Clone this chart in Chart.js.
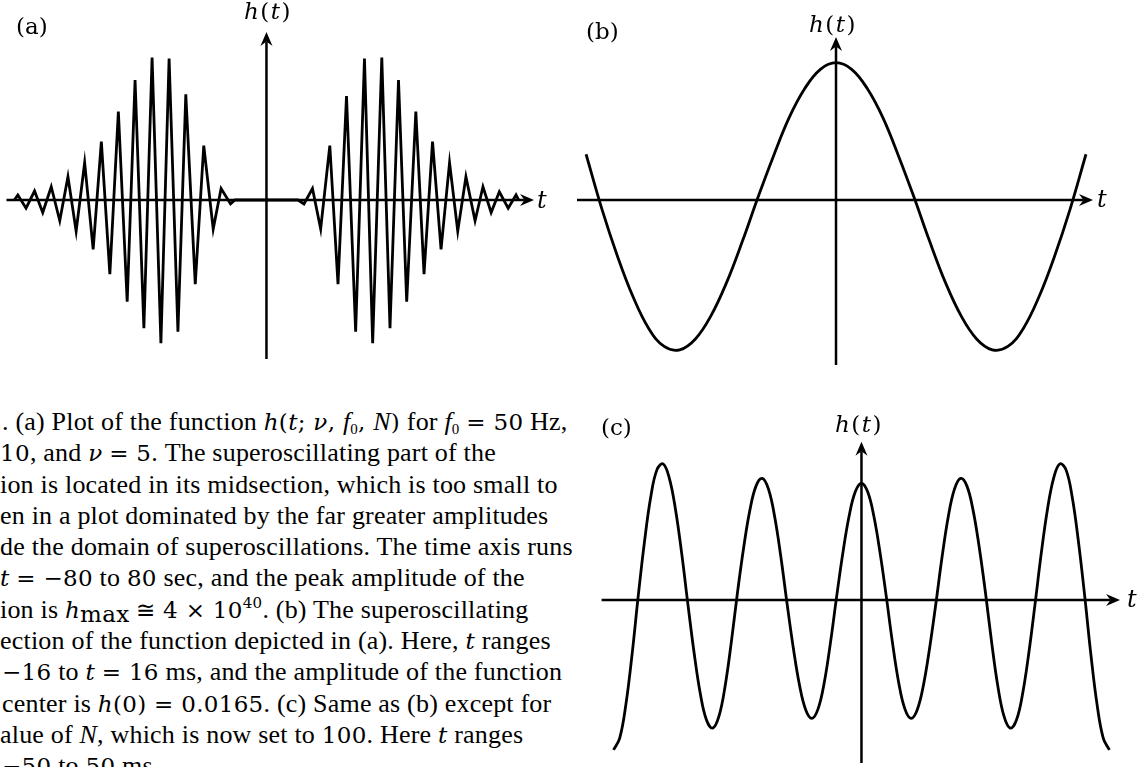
<!DOCTYPE html>
<html><head><meta charset="utf-8">
<script src="https://cdn.jsdelivr.net/npm/chart.js@4.4.1/dist/chart.umd.min.js"></script>
<style>
html,body{margin:0;padding:0;background:#fff;}
body{width:1141px;height:767px;overflow:hidden;position:relative;color:#000;}
canvas{position:absolute;}
.lbl{position:absolute;font-family:"DejaVu Serif",serif;font-size:23px;line-height:23px;white-space:nowrap;}
.ax{position:absolute;font-family:"DejaVu Serif",serif;font-style:italic;font-size:24px;line-height:24px;}
.ht{position:absolute;font-family:"DejaVu Serif",serif;font-size:23px;line-height:23px;letter-spacing:1.5px;transform:translateX(-50%);white-space:nowrap;}
#cap{position:absolute;left:0;top:406px;font-family:"Liberation Serif","Times New Roman",serif;font-size:26px;line-height:31.3px;letter-spacing:0.2px;white-space:nowrap;}
#cap div{height:31.3px;}
.m{font-family:"DejaVu Serif",serif;font-style:italic;font-size:23px;letter-spacing:0.3px;}
.n{font-family:"DejaVu Serif",serif;font-size:23px;letter-spacing:0.3px;}
sub{font-size:15px;vertical-align:-4px;line-height:0;}
sup{font-size:15px;vertical-align:10px;line-height:0;}
</style></head>
<body>
<canvas id="ca" width="550" height="350" style="left:0;top:20px"></canvas>
<canvas id="cb" width="545" height="352" style="left:565px;top:25px"></canvas>
<canvas id="cc" width="545" height="337" style="left:590px;top:430px"></canvas>

<div class="lbl" style="left:16px;top:15px">(a)</div>
<div class="lbl" style="left:586px;top:20px">(b)</div>
<div class="lbl" style="left:601px;top:416px">(c)</div>
<div class="ht" style="left:268px;top:0px"><i>h</i>(<i>t</i>)</div>
<div class="ht" style="left:833px;top:13px"><i>h</i>(<i>t</i>)</div>
<div class="ht" style="left:859px;top:413px"><i>h</i>(<i>t</i>)</div>
<div class="ax" style="left:537px;top:188px">t</div>
<div class="ax" style="left:1097px;top:187px">t</div>
<div class="ax" style="left:1127px;top:587px">t</div>

<div id="cap">
<div style="padding-left:2px">. (a) Plot of the function <span class="m">h</span><span class="n">(</span><span class="m">t</span><span class="n">; </span><span class="m">ν</span><span class="n">, </span><i>f</i><sub>0</sub><span class="n">, </span><i>N</i><span class="n">)</span> for <i>f</i><sub>0</sub> <span class="n">= 50</span> Hz,</div>
<div><span class="n">10</span>, and <span class="m">ν</span> <span class="n">= 5</span>. The superoscillating part of the</div>
<div>ion is located in its midsection, which is too small to</div>
<div>en in a plot dominated by the far greater amplitudes</div>
<div>de the domain of superoscillations. The time axis runs</div>
<div><span class="m">t</span> <span class="n">= −80</span> to <span class="n">80</span> sec, and the peak amplitude of the</div>
<div>ion is <span class="m">h</span><sub class="n">max</sub> <span class="n">≅ 4 × 10<sup>40</sup></span>. (b) The superoscillating</div>
<div>ection of the function depicted in (a). Here, <span class="m">t</span> ranges</div>
<div style="padding-left:2px"><span class="n">−16</span> to <span class="m">t</span> <span class="n">= 16</span> ms, and the amplitude of the function</div>
<div style="padding-left:2px">center is <span class="m">h</span><span class="n">(0) = 0.0165</span>. (c) Same as (b) except for</div>
<div>alue of <i>N</i>, which is now set to <span class="n">100</span>. Here <span class="m">t</span> ranges</div>
<div style="padding-left:2px"><span class="n">−50</span> to <span class="n">50</span> ms.</div>
</div>

<script>
// (a) t in seconds, h in units of 1e40
const tA = [-80, -78.9, -76.3, -73.6, -71.0, -68.3, -65.6, -63.0, -60.4, -57.7, -55.0, -52.4, -49.7, -47.0, -44.2, -41.7, -38.9, -36.3, -33.5, -30.9, -28.1, -25.6, -22.6, -19.9, -16.9, -14.4, -11.4, -10,
            10, 11.9, 14.6, 17.2, 20.1, 22.7, 25.4, 28.3, 31.1, 33.7, 36.6, 39.2, 41.9, 44.5, 47.4, 50.0, 52.7, 55.4, 58.1, 60.7, 63.3, 66.2, 68.7, 71.3, 73.9, 76.7, 79.2, 80];
const hA = [0, 0.14, -0.23, 0.25, -0.35, 0.37, -0.58, 0.65, -0.87, 1.04, -1.38, 1.63, -2.07, 2.47, -2.84, 3.35, -3.58, 3.98, -4.0, 3.95, -3.68, 2.95, -2.35, 1.52, -0.81, 0.32, -0.11, 0,
            0, -0.11, 0.32, -0.81, 1.52, -2.35, 2.90, -3.68, 3.95, -4.0, 3.98, -3.58, 3.35, -2.84, 2.47, -2.07, 1.63, -1.38, 1.04, -0.87, 0.65, -0.58, 0.37, -0.35, 0.23, -0.23, 0.14, 0];

// (b) t in ms
const tB = [-16, -15, -14, -13, -12, -11, -10, -9, -8, -7, -6, -5, -4, -3, -2, -1, 0, 1, 2, 3, 4, 5, 6, 7, 8, 9, 10, 11, 12, 13, 14, 15, 16];
const hB = [0.0055, -0.0010, -0.0067, -0.0116, -0.0154, -0.0176, -0.0180, -0.0167, -0.0139, -0.0099, -0.0050, 0.0003, 0.0053, 0.0099, 0.0134, 0.0157, 0.0165,
            0.0157, 0.0134, 0.0099, 0.0053, 0.0003, -0.0050, -0.0099, -0.0139, -0.0167, -0.0180, -0.0176, -0.0154, -0.0116, -0.0067, -0.0010, 0.0055];

// (c) t in ms, h relative to h(0)
const tC = [-50, -48.75, -47.5, -46.25, -45, -43.75, -42.5, -41.25, -40, -38.75, -37.5, -36.25, -35, -33.75, -32.5, -31.25, -30, -28.75, -27.5, -26.25,
            -25, -23.75, -22.5, -21.25, -20, -18.75, -17.5, -16.25, -15, -13.75, -12.5, -11.25, -10, -8.75, -7.5, -6.25, -5, -3.75, -2.5, -1.25, 0,
            1.25, 2.5, 3.75, 5, 6.25, 7.5, 8.75, 10, 11.25, 12.5, 13.75, 15, 16.25, 17.5, 18.75, 20, 21.25, 22.5, 23.75, 25,
            26.25, 27.5, 28.75, 30, 31.25, 32.5, 33.75, 35, 36.25, 37.5, 38.75, 40, 41.25, 42.5, 43.75, 45, 46.25, 47.5, 48.75, 50];
const hC = [-1.285, -1.183, -0.894, -0.463, 0.039, 0.500, 0.880, 1.115, 1.166, 1.045, 0.776, 0.399, -0.035, -0.452, -0.801, -1.028, -1.098, -0.998, -0.739, -0.363,
            0.064, 0.450, 0.770, 0.978, 1.042, 0.950, 0.714, 0.368, -0.032, -0.409, -0.728, -0.940, -1.014, -0.933, -0.706, -0.365, 0.031, 0.404, 0.718, 0.927, 1.000,
            0.927, 0.718, 0.404, 0.031, -0.365, -0.706, -0.933, -1.014, -0.940, -0.728, -0.409, -0.032, 0.368, 0.714, 0.950, 1.042, 0.978, 0.770, 0.450, 0.064,
            -0.363, -0.739, -0.998, -1.098, -1.028, -0.801, -0.452, -0.035, 0.399, 0.776, 1.045, 1.166, 1.115, 0.880, 0.500, 0.039, -0.463, -0.894, -1.183, -1.285];

const axesArrows = {
  id: 'axesArrows',
  beforeDatasetsDraw(chart) {
    const {ctx, chartArea, scales} = chart;
    const {left, right, top, bottom} = chartArea;
    const x0 = scales.x.getPixelForValue(0);
    const y0 = scales.y.getPixelForValue(0);
    const L = 14, W = 6, N = 4.5;
    ctx.save();
    ctx.strokeStyle = '#000';
    ctx.fillStyle = '#000';
    ctx.lineWidth = 2.5;
    ctx.beginPath();
    ctx.moveTo(left, y0); ctx.lineTo(right - L + N, y0);
    ctx.moveTo(x0, bottom); ctx.lineTo(x0, top + L - N);
    ctx.stroke();
    ctx.beginPath();
    ctx.moveTo(right, y0); ctx.lineTo(right - L, y0 - W); ctx.lineTo(right - L + N, y0); ctx.lineTo(right - L, y0 + W); ctx.closePath();
    ctx.moveTo(x0, top); ctx.lineTo(x0 - W, top + L); ctx.lineTo(x0, top + L - N); ctx.lineTo(x0 + W, top + L); ctx.closePath();
    ctx.fill();
    ctx.restore();
  }
};

function makeChart(id, xs, ys, xr, yr, pad, smooth) {
  const pts = xs.map((t, i) => ({x: t, y: ys[i]}));
  return new Chart(document.getElementById(id), {
    type: 'scatter',
    data: {datasets: [{
      data: pts, showLine: true, borderColor: '#000', borderWidth: 2.8,
      pointRadius: 0, tension: smooth ? 0.4 : 0, fill: false
    }]},
    options: {
      responsive: false, animation: false, devicePixelRatio: 1, events: [],
      layout: {padding: pad},
      scales: {
        x: {type: 'linear', min: xr[0], max: xr[1], display: false},
        y: {type: 'linear', min: yr[0], max: yr[1], display: false}
      },
      plugins: {legend: {display: false}, tooltip: {enabled: false}, title: {display: false}}
    },
    plugins: [axesArrows]
  });
}

makeChart('ca', tA, hA, [-82.5, 84.9], [-4.44, 4.69], {left: 6.5, right: 16, top: 12, bottom: 11}, false);
makeChart('cb', tB, hB, [-16.58, 16.45], [-0.01983, 0.01959], {left: 12, right: 17, top: 12, bottom: 12}, true);
makeChart('cc', tC, hC, [-52.4, 52.13], [-1.3967, 1.3565], {left: 11.6, right: 15, top: 11.7, bottom: 4}, true);
</script>
</body></html>
